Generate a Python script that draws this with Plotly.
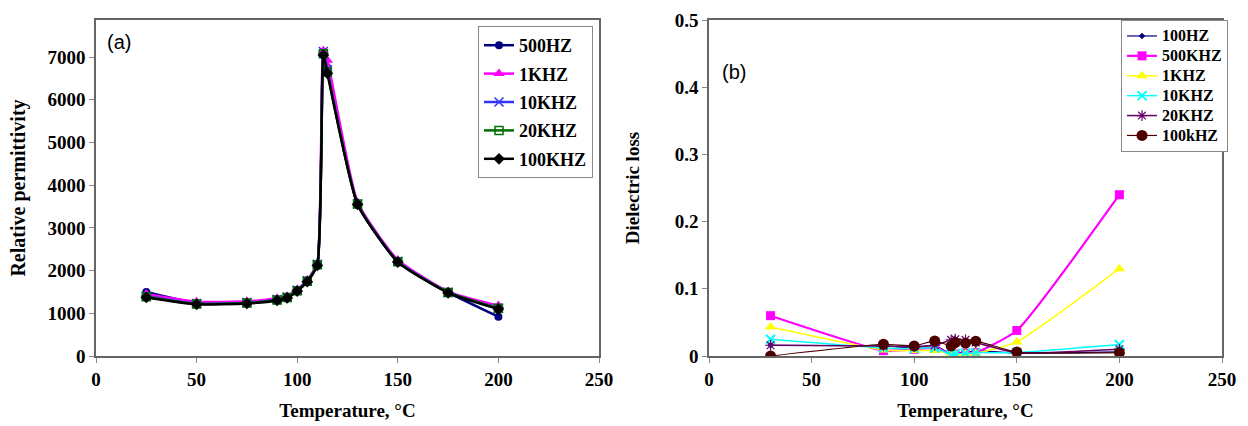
import plotly.graph_objects as go

# ---- Data: panel (a) relative permittivity ----
temp_a = [25, 50, 75, 90, 95, 100, 105, 110, 113, 115, 130, 150, 175, 200]
eps_500hz = [1500, 1240, 1250, 1320, 1380, 1540, 1760, 2150, 7120, 6750, 3560, 2210, 1490, 920]
eps_1khz = [1450, 1270, 1280, 1350, 1400, 1560, 1780, 2170, 7150, 6930, 3600, 2250, 1510, 1180]
eps_10khz = [1400, 1230, 1250, 1320, 1380, 1540, 1760, 2150, 7130, 6700, 3560, 2220, 1490, 1120]
eps_20khz = [1390, 1220, 1240, 1310, 1370, 1530, 1750, 2140, 7080, 6650, 3560, 2210, 1490, 1120]
eps_100khz = [1370, 1210, 1230, 1300, 1360, 1520, 1740, 2120, 7050, 6620, 3550, 2200, 1480, 1100]
names_a = ["500HZ", "1KHZ", "10KHZ", "20KHZ", "100KHZ"]

# ---- Data: panel (b) dielectric loss ----
temp_b = [30, 85, 100, 110, 118, 120, 125, 130, 150, 200]
loss_100hz = [0.016, 0.015, 0.012, 0.016, 0.003, 0.005, 0.005, 0.008, 0.004, 0.006]
loss_500khz = [0.060, 0.008, 0.010, 0.012, 0.003, 0.003, 0.004, 0.005, 0.038, 0.240]
loss_1khz = [0.043, 0.009, 0.008, 0.008, 0.003, 0.003, 0.003, 0.004, 0.021, 0.130]
loss_10khz = [0.025, 0.012, 0.011, 0.012, 0.002, 0.003, 0.004, 0.005, 0.005, 0.017]
loss_20khz = [0.016, 0.015, 0.014, 0.016, 0.024, 0.025, 0.024, 0.020, 0.005, 0.010]
loss_100khz = [0.000, 0.0175, 0.015, 0.0225, 0.015, 0.020, 0.019, 0.022, 0.006, 0.005]
names_b = ["100HZ", "500KHZ", "1KHZ", "10KHZ", "20KHZ", "100kHZ"]

x_ticks = [0, 50, 100, 150, 200, 250]
y_ticks_a = [0, 1000, 2000, 3000, 4000, 5000, 6000, 7000]
y_ticks_b = [0, 0.1, 0.2, 0.3, 0.4, 0.5]

SERIF = "Liberation Serif"
fig = go.Figure()

styles_a = [
    ("#000080", dict(symbol="circle", size=8, color="#000080")),
    ("#FF00FF", dict(symbol="triangle-up", size=10, color="#FF00FF")),
    ("#3333FF", dict(symbol="x-thin-open", size=9, color="#3333FF", line=dict(width=1.5, color="#3333FF"))),
    ("#007000", dict(symbol="square-open", size=8, color="#007000", line=dict(width=1.5, color="#007000"))),
    ("#000000", dict(symbol="diamond", size=9, color="#000000")),
]
series_a = [eps_500hz, eps_1khz, eps_10khz, eps_20khz, eps_100khz]
for name, ys, (col, mk) in zip(names_a, series_a, styles_a):
    fig.add_trace(go.Scatter(
        x=temp_a, y=ys, name=name, mode="lines+markers",
        line=dict(color=col, width=2.5, shape="spline", smoothing=0.5),
        marker=mk, xaxis="x", yaxis="y", legend="legend", legendgroup=name))

styles_b = [
    ("#000080", 1.2, dict(symbol="diamond", size=5, color="#000080")),
    ("#FF00FF", 2.2, dict(symbol="square", size=9, color="#FF00FF")),
    ("#FFFF00", 1.5, dict(symbol="triangle-up", size=10, color="#FFFF00")),
    ("#00FFFF", 1.5, dict(symbol="x-thin-open", size=9, color="#00FFFF", line=dict(width=2, color="#00FFFF"))),
    ("#660066", 1.5, dict(symbol="asterisk-open", size=9, color="#660066", line=dict(width=1.2, color="#660066"))),
    ("#4D0000", 1.2, dict(symbol="circle", size=11, color="#4D0000")),
]
series_b = [loss_100hz, loss_500khz, loss_1khz, loss_10khz, loss_20khz, loss_100khz]
for name, ys, (col, w, mk) in zip(names_b, series_b, styles_b):
    fig.add_trace(go.Scatter(
        x=temp_b, y=ys, name='<span style="font-size:16px">' + name + "</span>",
        mode="lines+markers",
        line=dict(color=col, width=w, shape="spline", smoothing=0.5),
        marker=mk, xaxis="x2", yaxis="y2", legend="legend2", legendgroup="b" + name))

tickfont = dict(family=SERIF, size=19, color="#000000", weight="bold")
titlefont = dict(family=SERIF, size=19, color="#000000", weight="bold")
axis_common = dict(showgrid=False, zeroline=False, showline=True, mirror=True,
                   linecolor="#666666", linewidth=1.6, ticks="outside",
                   tickcolor="#888888", ticklen=5, tickfont=tickfont, automargin=False)

ybot = (426 - 356) / 426
ytop = (426 - 20) / 426

fig.update_layout(
    width=1248, height=426,
    margin=dict(l=0, r=0, t=0, b=0, autoexpand=False),
    paper_bgcolor="white", plot_bgcolor="white",
    xaxis=dict(domain=[96 / 1248, 599 / 1248], range=[0, 250], tickvals=x_ticks,
               title=dict(text="Temperature, °C", font=titlefont),
               anchor="y", **axis_common),
    yaxis=dict(domain=[ybot, ytop], range=[0, 7870], tickvals=y_ticks_a,
               title=dict(text="Relative permittivity", font=dict(titlefont, size=20), standoff=16),
               anchor="x", **axis_common),
    xaxis2=dict(domain=[709 / 1248, 1222 / 1248], range=[0, 250], tickvals=x_ticks,
                title=dict(text="Temperature, °C", font=titlefont),
                anchor="y2", **axis_common),
    yaxis2=dict(domain=[ybot, ytop], range=[0, 0.5], tickvals=y_ticks_b,
                ticktext=["0", "0.1", "0.2", "0.3", "0.4", "0.5"],
                title=dict(text="Dielectric loss", font=titlefont, standoff=30),
                anchor="x2", **axis_common),
    legend=dict(x=478 / 1248, y=(426 - 26) / 426, xanchor="left", yanchor="top",
                bgcolor="white", bordercolor="#888888", borderwidth=1,
                font=dict(family=SERIF, size=18, color="#000000", weight="bold"),
                tracegroupgap=2, itemwidth=30),
    legend2=dict(x=1121 / 1248, y=(426 - 20) / 426, xanchor="left", yanchor="top",
                 bgcolor="white", bordercolor="#888888", borderwidth=1,
                 font=dict(family=SERIF, size=13, color="#000000", weight="bold"),
                 tracegroupgap=0, itemwidth=30),
    showlegend=True,
    annotations=[
        dict(text="(a)", x=105 / 1248, y=(426 - 42) / 426, xref="paper", yref="paper",
             xanchor="left", yanchor="middle", showarrow=False,
             font=dict(family="Liberation Sans", size=20, color="#000000")),
        dict(text="(b)", x=720 / 1248, y=(426 - 72) / 426, xref="paper", yref="paper",
             xanchor="left", yanchor="middle", showarrow=False,
             font=dict(family="Liberation Sans", size=20, color="#000000")),
    ],
)

fig.write_html("out.html")
